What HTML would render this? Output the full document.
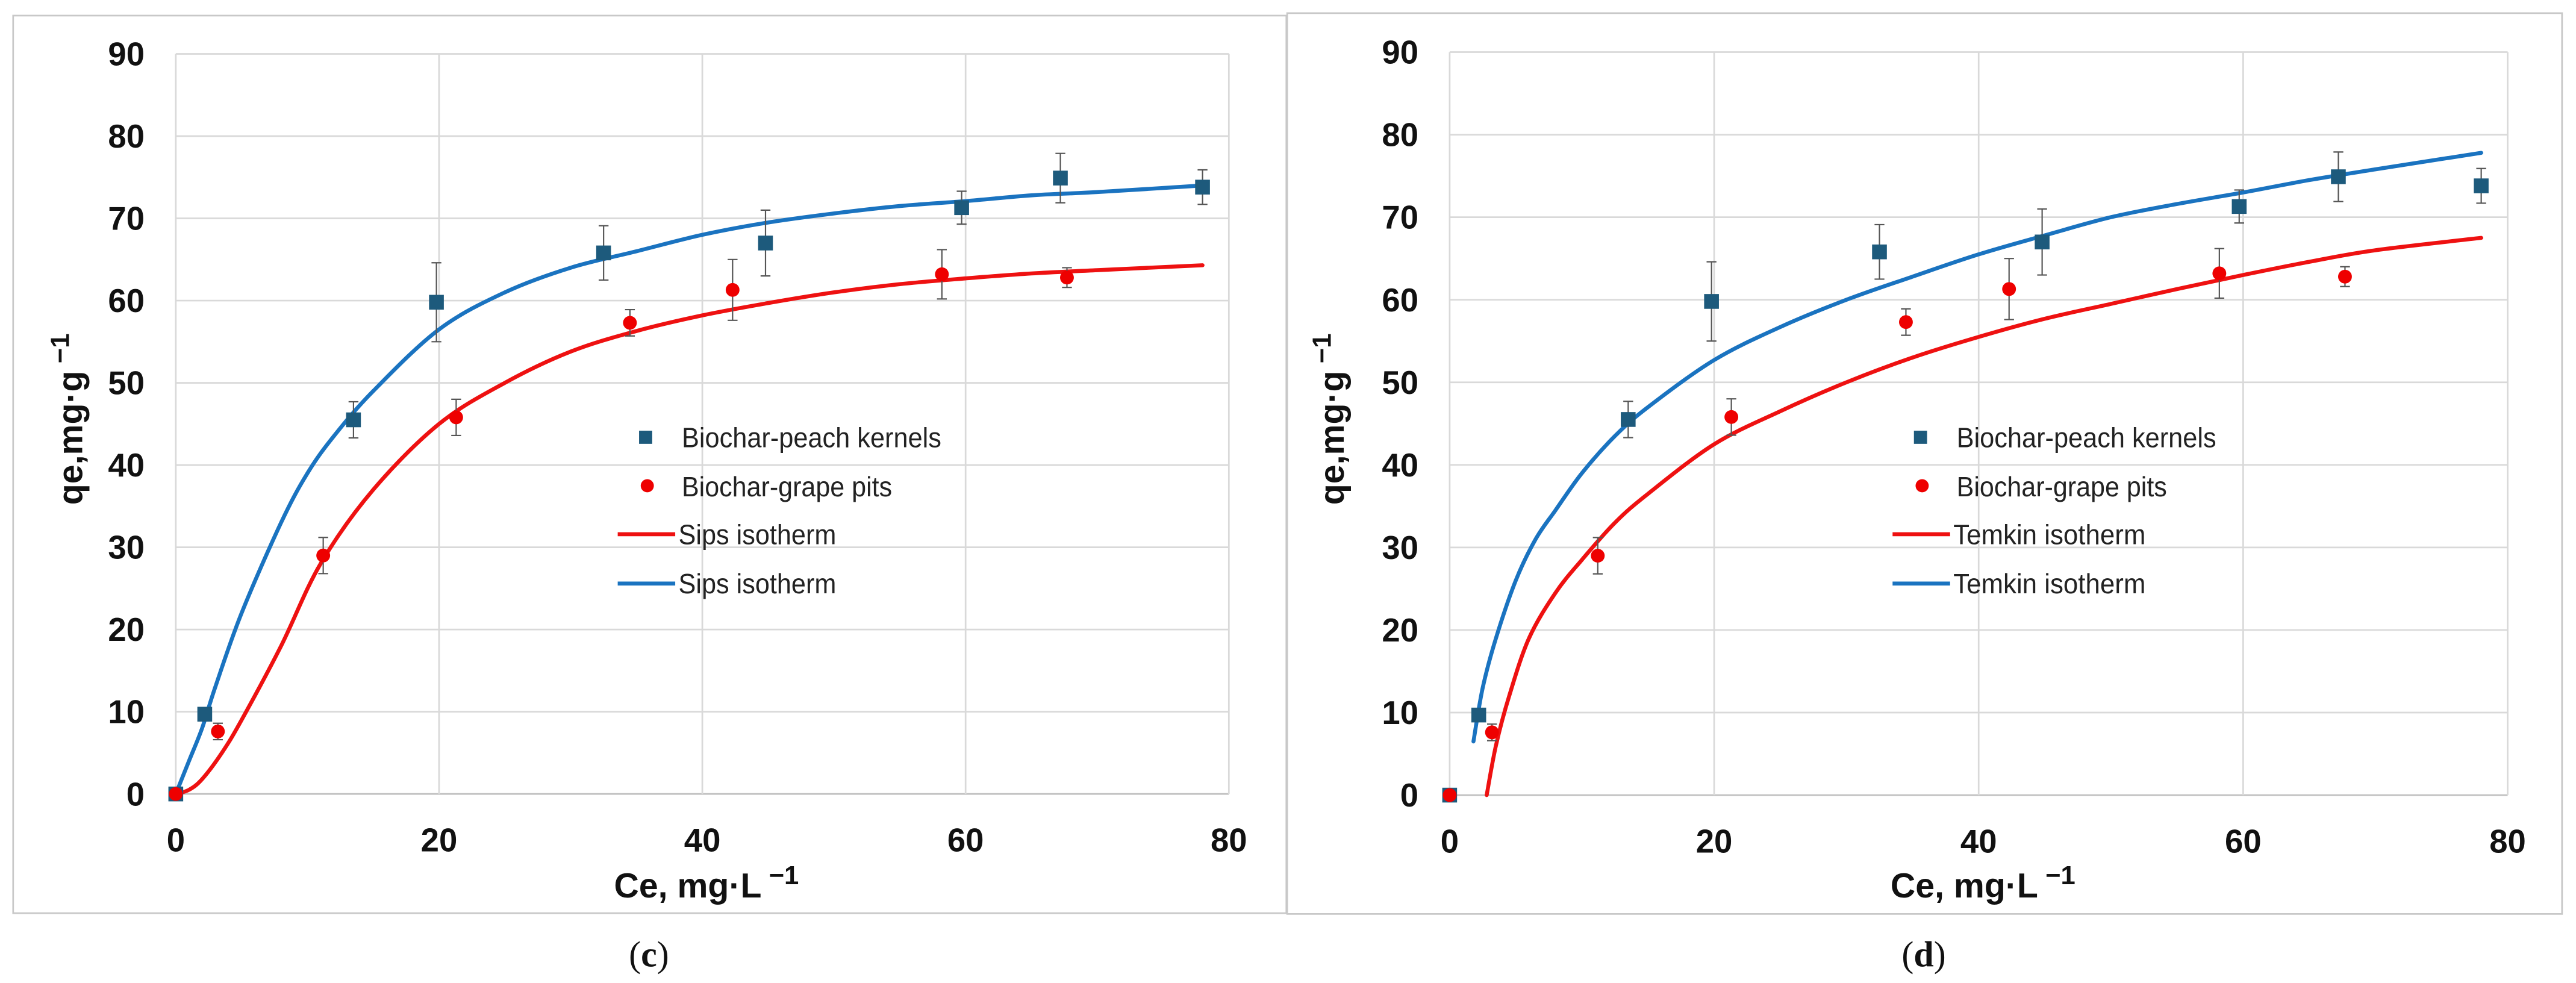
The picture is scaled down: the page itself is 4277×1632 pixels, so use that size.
<!DOCTYPE html>
<html><head><meta charset="utf-8">
<style>
html,body{margin:0;padding:0;background:#fff;}
svg{display:block;}
text{font-family:"Liberation Sans",sans-serif;}
</style></head>
<body>
<svg id="fig" width="4277" height="1632" viewBox="0 0 1568 598" preserveAspectRatio="none" xmlns="http://www.w3.org/2000/svg">
<rect x="0" y="0" width="1568" height="598" fill="#fff"/>
</svg>
<script>
// ----- data -----
const xTicks = [0, 20, 40, 60, 80];
const yTicks = [0, 10, 20, 30, 40, 50, 60, 70, 80, 90];
const peachX = [0, 2.2, 13.5, 19.8, 32.5, 44.8, 59.7, 67.2, 78];
const peachY = [0, 9.7, 45.5, 59.8, 65.8, 67.0, 71.3, 74.9, 73.8];
const peachErr = [0, 0, 2.2, 4.8, 3.3, 4.0, 2.0, 3.0, 2.1];
const grapeX = [0, 3.2, 11.2, 21.3, 34.5, 42.3, 58.2, 67.7];
const grapeY = [0, 7.6, 29.0, 45.8, 57.3, 61.3, 63.2, 62.8];
const grapeErr = [0, 1.0, 2.2, 2.2, 1.6, 3.7, 3.0, 1.2];
const sipsBlueX = [0, 1, 2, 3, 5, 8, 10, 12, 15, 20, 25, 30, 35, 40, 45, 50, 55, 60, 65, 70, 78];
const sipsBlueY = [0, 4, 8, 13, 22, 33, 39, 43.5, 49, 56.5, 61, 64, 66, 68, 69.5, 70.6, 71.5, 72.1, 72.8, 73.2, 74];
const sipsRedX = [0, 1, 2, 3.5, 5, 8, 11, 15, 20, 25, 30, 35, 40, 45, 50, 55, 60, 65, 70, 78];
const sipsRedY = [0, 0.5, 1.8, 5, 9, 18, 28, 37, 45, 50, 53.8, 56.3, 58.2, 59.7, 61, 62, 62.7, 63.3, 63.7, 64.3];
const temBlueX = [1.8, 2.5, 3.5, 5, 6.5, 8, 10, 12.5, 15, 20, 25, 30, 35, 40, 45, 50, 55, 60, 65, 70, 78];
const temBlueY = [6.5, 13, 19, 26, 31, 34.5, 39, 43.5, 47, 52.7, 56.7, 60, 62.8, 65.5, 67.8, 70, 71.6, 73, 74.5, 75.8, 77.8];
const temRedX = [2.8, 3.5, 4.5, 6, 8, 10, 12.5, 15, 20, 25, 30, 35, 40, 45, 50, 55, 60, 65, 70, 78];
const temRedY = [0, 6, 12, 19, 24.5, 28.5, 33, 36.5, 42.5, 46.5, 50, 53, 55.5, 57.7, 59.5, 61.3, 63, 64.6, 66, 67.5];

const NS = "http://www.w3.org/2000/svg";
const svg = document.getElementById('fig');
function mk(tag, attrs, parent, txt) {
  const e = document.createElementNS(NS, tag);
  for (const k in attrs) e.setAttribute(k, attrs[k]);
  if (txt !== undefined) e.textContent = txt;
  (parent || svg).appendChild(e);
  return e;
}
function smoothPath(pts) {
  let d = 'M' + pts[0][0].toFixed(2) + ',' + pts[0][1].toFixed(2);
  for (let i = 0; i < pts.length - 1; i++) {
    const p0 = pts[i - 1] || pts[i], p1 = pts[i], p2 = pts[i + 1], p3 = pts[i + 2] || p2;
    const c1x = p1[0] + (p2[0] - p0[0]) / 6, c1y = p1[1] + (p2[1] - p0[1]) / 6;
    const c2x = p2[0] - (p3[0] - p1[0]) / 6, c2y = p2[1] - (p3[1] - p1[1]) / 6;
    d += ' C' + c1x.toFixed(2) + ',' + c1y.toFixed(2) + ' ' + c2x.toFixed(2) + ',' + c2y.toFixed(2) + ' ' + p2[0].toFixed(2) + ',' + p2[1].toFixed(2);
  }
  return d;
}

function panel(cfg) {
  const g = mk('g', {});
  
  
  const X = v => cfg.x0 + (cfg.x1 - cfg.x0) * v / 80;
  const Y = v => cfg.y0 - (cfg.y0 - cfg.y1) * v / 90;
  const frame = mk('rect', {x: cfg.fx, y: cfg.fy, width: cfg.fw, height: cfg.fh, fill: 'none', stroke: '#c8c8c8', 'stroke-width': 1}, g);
  
  
  yTicks.forEach(t => {
    const l = mk('line', {x1: cfg.x0, x2: cfg.x1, y1: Y(t), y2: Y(t), stroke: t === 0 ? '#bfbfbf' : '#d9d9d9', 'stroke-width': 1}, g);
    
    
    const tx = mk('text', {x: cfg.x0 - 19, y: Y(t) + 7, 'text-anchor': 'end', 'font-size': 20, 'font-weight': 'bold', fill: '#111'}, g, t);
    
    
  });
  xTicks.forEach(t => {
    const l = mk('line', {x1: X(t), x2: X(t), y1: cfg.y1, y2: cfg.y0, stroke: '#d9d9d9', 'stroke-width': 1}, g);
    
    
    const tx = mk('text', {x: X(t), y: cfg.y0 + 35, 'text-anchor': 'middle', 'font-size': 20, 'font-weight': 'bold', fill: '#111'}, g, t);
    
    
  });
  const xt = mk('text', {x: cfg.xtx, y: 546, 'text-anchor': 'middle', 'font-size': 21, 'font-weight': 'bold', fill: '#111'}, g);
  
  
  mk('tspan', {}, xt, 'Ce, mg·L');
  mk('tspan', {dy: -8, 'font-size': 16}, xt, ' \u22121');
  const yt = mk('text', {x: 0, y: 0, transform: 'translate(' + cfg.ytx + ',255) rotate(-90)', 'text-anchor': 'middle', 'font-size': 21, 'font-weight': 'bold', fill: '#111'}, g);
  
  
  mk('tspan', {}, yt, 'qe,mg·g');
  mk('tspan', {dy: -8, 'font-size': 16}, yt, ' \u22121');
  function curve(xs, ys, color, name) {
    const pts = xs.map((v, i) => [X(v), Y(ys[i])]);
    const p = mk('path', {d: smoothPath(pts), fill: 'none', stroke: color, 'stroke-width': 2.4, 'stroke-linejoin': 'round', 'stroke-linecap': 'round'}, g);
    
    
  }
  curve(cfg.blueX, cfg.blueY, '#1a73c0', 'peach-fit-curve');
  curve(cfg.redX, cfg.redY, '#ee1111', 'grape-fit-curve');
  function errbar(x, y, e) {
    if (!e) return;
    const eg = mk('g', {stroke: '#555', 'stroke-width': 0.8}, g);
    
    
    mk('line', {x1: X(x), x2: X(x), y1: Y(y - e), y2: Y(y + e)}, eg);
    mk('line', {x1: X(x) - 3, x2: X(x) + 3, y1: Y(y - e), y2: Y(y - e)}, eg);
    mk('line', {x1: X(x) - 3, x2: X(x) + 3, y1: Y(y + e), y2: Y(y + e)}, eg);
  }
  peachX.forEach((v, i) => errbar(v, peachY[i], peachErr[i]));
  grapeX.forEach((v, i) => errbar(v, grapeY[i], grapeErr[i]));
  peachX.forEach((v, i) => {
    const r = mk('rect', {x: X(v) - 4.5, y: Y(peachY[i]) - 4.5, width: 9, height: 9, fill: '#1d5a7c'}, g);
    
    
  });
  grapeX.forEach((v, i) => {
    const c = mk('ellipse', {cx: X(v), cy: Y(grapeY[i]), rx: 4.2, ry: 4.2, fill: '#ee0000'}, g);
    
    
  });
  const lg = mk('g', {}, g);
  
  
  const lx = cfg.lx;
  const ls = {'font-size': 17, fill: '#222'};
  mk('rect', {x: lx + 13, y: 262, width: 8, height: 8, fill: '#1d5a7c'}, lg);
  const t1 = mk('text', Object.assign({x: lx + 39, y: 272, textLength: 158, lengthAdjust: 'spacingAndGlyphs'}, ls), lg, 'Biochar-peach kernels');
  
  
  mk('ellipse', {cx: lx + 18, cy: 295.5, rx: 4, ry: 4, fill: '#ee0000'}, lg);
  const t2 = mk('text', Object.assign({x: lx + 39, y: 302, textLength: 128, lengthAdjust: 'spacingAndGlyphs'}, ls), lg, 'Biochar-grape pits');
  
  
  mk('line', {x1: lx, x2: lx + 35, y1: 325, y2: 325, stroke: '#ee1111', 'stroke-width': 2.4}, lg);
  const t3 = mk('text', Object.assign({x: lx + 37, y: 331, textLength: cfg.fitLen, lengthAdjust: 'spacingAndGlyphs'}, ls), lg, cfg.fitName);
  
  
  mk('line', {x1: lx, x2: lx + 35, y1: 355, y2: 355, stroke: '#1a73c0', 'stroke-width': 2.4}, lg);
  const t4 = mk('text', Object.assign({x: lx + 37, y: 361, textLength: cfg.fitLen, lengthAdjust: 'spacingAndGlyphs'}, ls), lg, cfg.fitName);
  
  
  const cap = mk('text', {x: cfg.capx, y: 588, 'text-anchor': 'middle', 'font-size': 22, fill: '#111', style: 'font-family:"Liberation Serif",serif'}, g);
  
  
  mk('tspan', {}, cap, '(');
  mk('tspan', {'font-weight': 'bold'}, cap, cfg.letter);
  mk('tspan', {}, cap, ')');
}

panel({name: 'panel-c-sips', x0: 107, x1: 748, y0: 483, y1: 32.8, fx: 8, fy: 9.5, fw: 775, fh: 546,
  xtx: 430, ytx: 50, lx: 376, capx: 395, letter: 'c', fitName: 'Sips isotherm', fitLen: 96,
  blueX: sipsBlueX, blueY: sipsBlueY, redX: sipsRedX, redY: sipsRedY});
panel({name: 'panel-d-temkin', x0: 882.4, x1: 1526.4, y0: 483.7, y1: 31.7, fx: 783.5, fy: 8, fw: 776, fh: 548,
  xtx: 1207, ytx: 818, lx: 1152, capx: 1171, letter: 'd', fitName: 'Temkin isotherm', fitLen: 117,
  blueX: temBlueX, blueY: temBlueY, redX: temRedX, redY: temRedY});
</script>
</body></html>
